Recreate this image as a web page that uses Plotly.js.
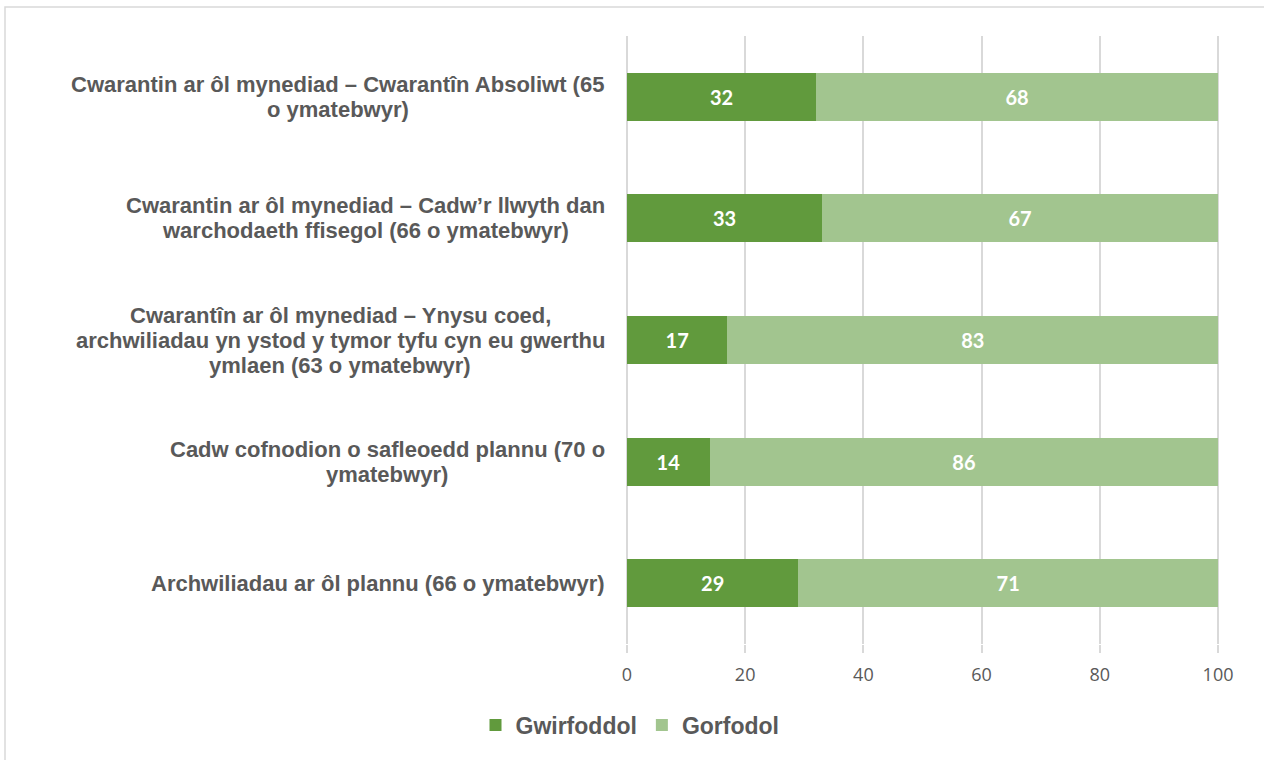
<!DOCTYPE html>
<html>
<head>
<meta charset="utf-8">
<script src="https://cdn.plot.ly/plotly-3.0.1.min.js"></script>
<style>
html,body{margin:0;padding:0;background:#fff;}
#chart{width:1264px;height:760px;}
</style>
</head>
<body>
<div id="chart"></div>
<script>
const categories = [
  "Cwarantin ar ôl mynediad – Cwarantîn Absoliwt (65<br>o ymatebwyr)",
  "Cwarantin ar ôl mynediad – Cadw’r llwyth dan<br>warchodaeth ffisegol (66 o ymatebwyr)",
  "Cwarantîn ar ôl mynediad – Ynysu coed,<br>archwiliadau yn ystod y tymor tyfu cyn eu gwerthu<br>ymlaen (63 o ymatebwyr)",
  "Cadw cofnodion o safleoedd plannu (70 o<br>ymatebwyr)",
  "Archwiliadau ar ôl plannu (66 o ymatebwyr)"
];
const seriesNames = ["Gwirfoddol", "Gorfodol"];
const gwirfoddol = [32, 33, 17, 14, 29];
const gorfodol = [68, 67, 83, 86, 71];
const xTicks = [0, 20, 40, 60, 80, 100];

const colors = ["#619a3d", "#a2c58f"];
const catFontSize = 22;
const catFontFamily = "Liberation Sans";
const catLineGap = 25;
const labelFont = {family: "Lato, 'Open Sans', sans-serif", size: 20, color: "#ffffff", weight: "bold"};

const W = 1264, H = 760;
const M = {l: 624, r: 43, t: 36, b: 116};
const plotW = W - M.l - M.r, plotH = H - M.t - M.b;
const px2paperX = p => (p - M.l) / plotW;
const px2paperY = p => (H - M.b - p) / plotH;

function barTrace(name, vals, color) {
  return {
    type: "bar",
    orientation: "h",
    name: name,
    y: categories,
    x: vals,
    marker: {color: color, line: {width: 0}},
    width: 0.395,
    text: vals.map(String),
    texttemplate: "<b>%{text}</b>",
    textposition: "inside",
    insidetextanchor: "middle",
    textangle: 0,
    constraintext: "none",
    textfont: labelFont,
    hoverinfo: "skip"
  };
}

const data = [
  barTrace(seriesNames[0], gwirfoddol, colors[0]),
  barTrace(seriesNames[1], gorfodol, colors[1])
];

// category labels: lines centred within a block right-aligned against the plot
const ctx = document.createElement("canvas").getContext("2d");
ctx.font = "bold " + catFontSize + "px '" + catFontFamily + "'";
const annotations = [];
categories.forEach(c => {
  const lines = c.split("<br>");
  const w = Math.max(...lines.map(l => ctx.measureText(l).width));
  const n = lines.length;
  lines.forEach((l, i) => {
    annotations.push({
      xref: "paper", yref: "y",
      x: px2paperX(605), y: c,
      xanchor: "center", yanchor: "middle",
      xshift: -w / 2,
      yshift: ((n - 1) / 2 - i) * catLineGap,
      align: "center",
      showarrow: false,
      text: l,
      font: {family: "'" + catFontFamily + "', Arial, sans-serif", size: catFontSize, color: "#595959", weight: "bold"}
    });
  });
});

const layout = {
  width: W, height: H,
  margin: M,
  paper_bgcolor: "#ffffff",
  plot_bgcolor: "#ffffff",
  barmode: "stack",
  showlegend: true,
  legend: {
    orientation: "h",
    x: px2paperX(630), xanchor: "center",
    y: px2paperY(725), yanchor: "middle",
    font: {family: "'Liberation Sans', Arial, sans-serif", size: 23, color: "#595959", weight: "bold"},
    traceorder: "normal",
    itemwidth: 30
  },
  xaxis: {
    range: [-0.5, 100.5],
    tickvals: xTicks,
    ticktext: xTicks.map(String),
    showgrid: true,
    gridcolor: "#d9d9d9",
    gridwidth: 2,
    zeroline: false,
    showline: false,
    ticks: "outside",
    ticklen: 8,
    tickwidth: 2,
    tickcolor: "#d9d9d9",
    tickfont: {family: "'Liberation Sans Narrow', 'Open Sans', sans-serif", size: 18, color: "#595959"},
    ticklabelstandoff: 6,
    fixedrange: true
  },
  yaxis: {
    type: "category",
    autorange: "reversed",
    showticklabels: false,
    showgrid: false,
    zeroline: false,
    showline: false,
    ticks: "",
    fixedrange: true
  },
  annotations: annotations,
  shapes: [{
    type: "rect", xref: "paper", yref: "paper", layer: "below",
    x0: px2paperX(5), x1: px2paperX(1275),
    y0: px2paperY(775), y1: px2paperY(7),
    line: {color: "#d9d9d9", width: 1.5},
    fillcolor: "rgba(0,0,0,0)"
  }]
};

Plotly.newPlot("chart", data, layout, {displayModeBar: false, staticPlot: true});
</script>
</body>
</html>
